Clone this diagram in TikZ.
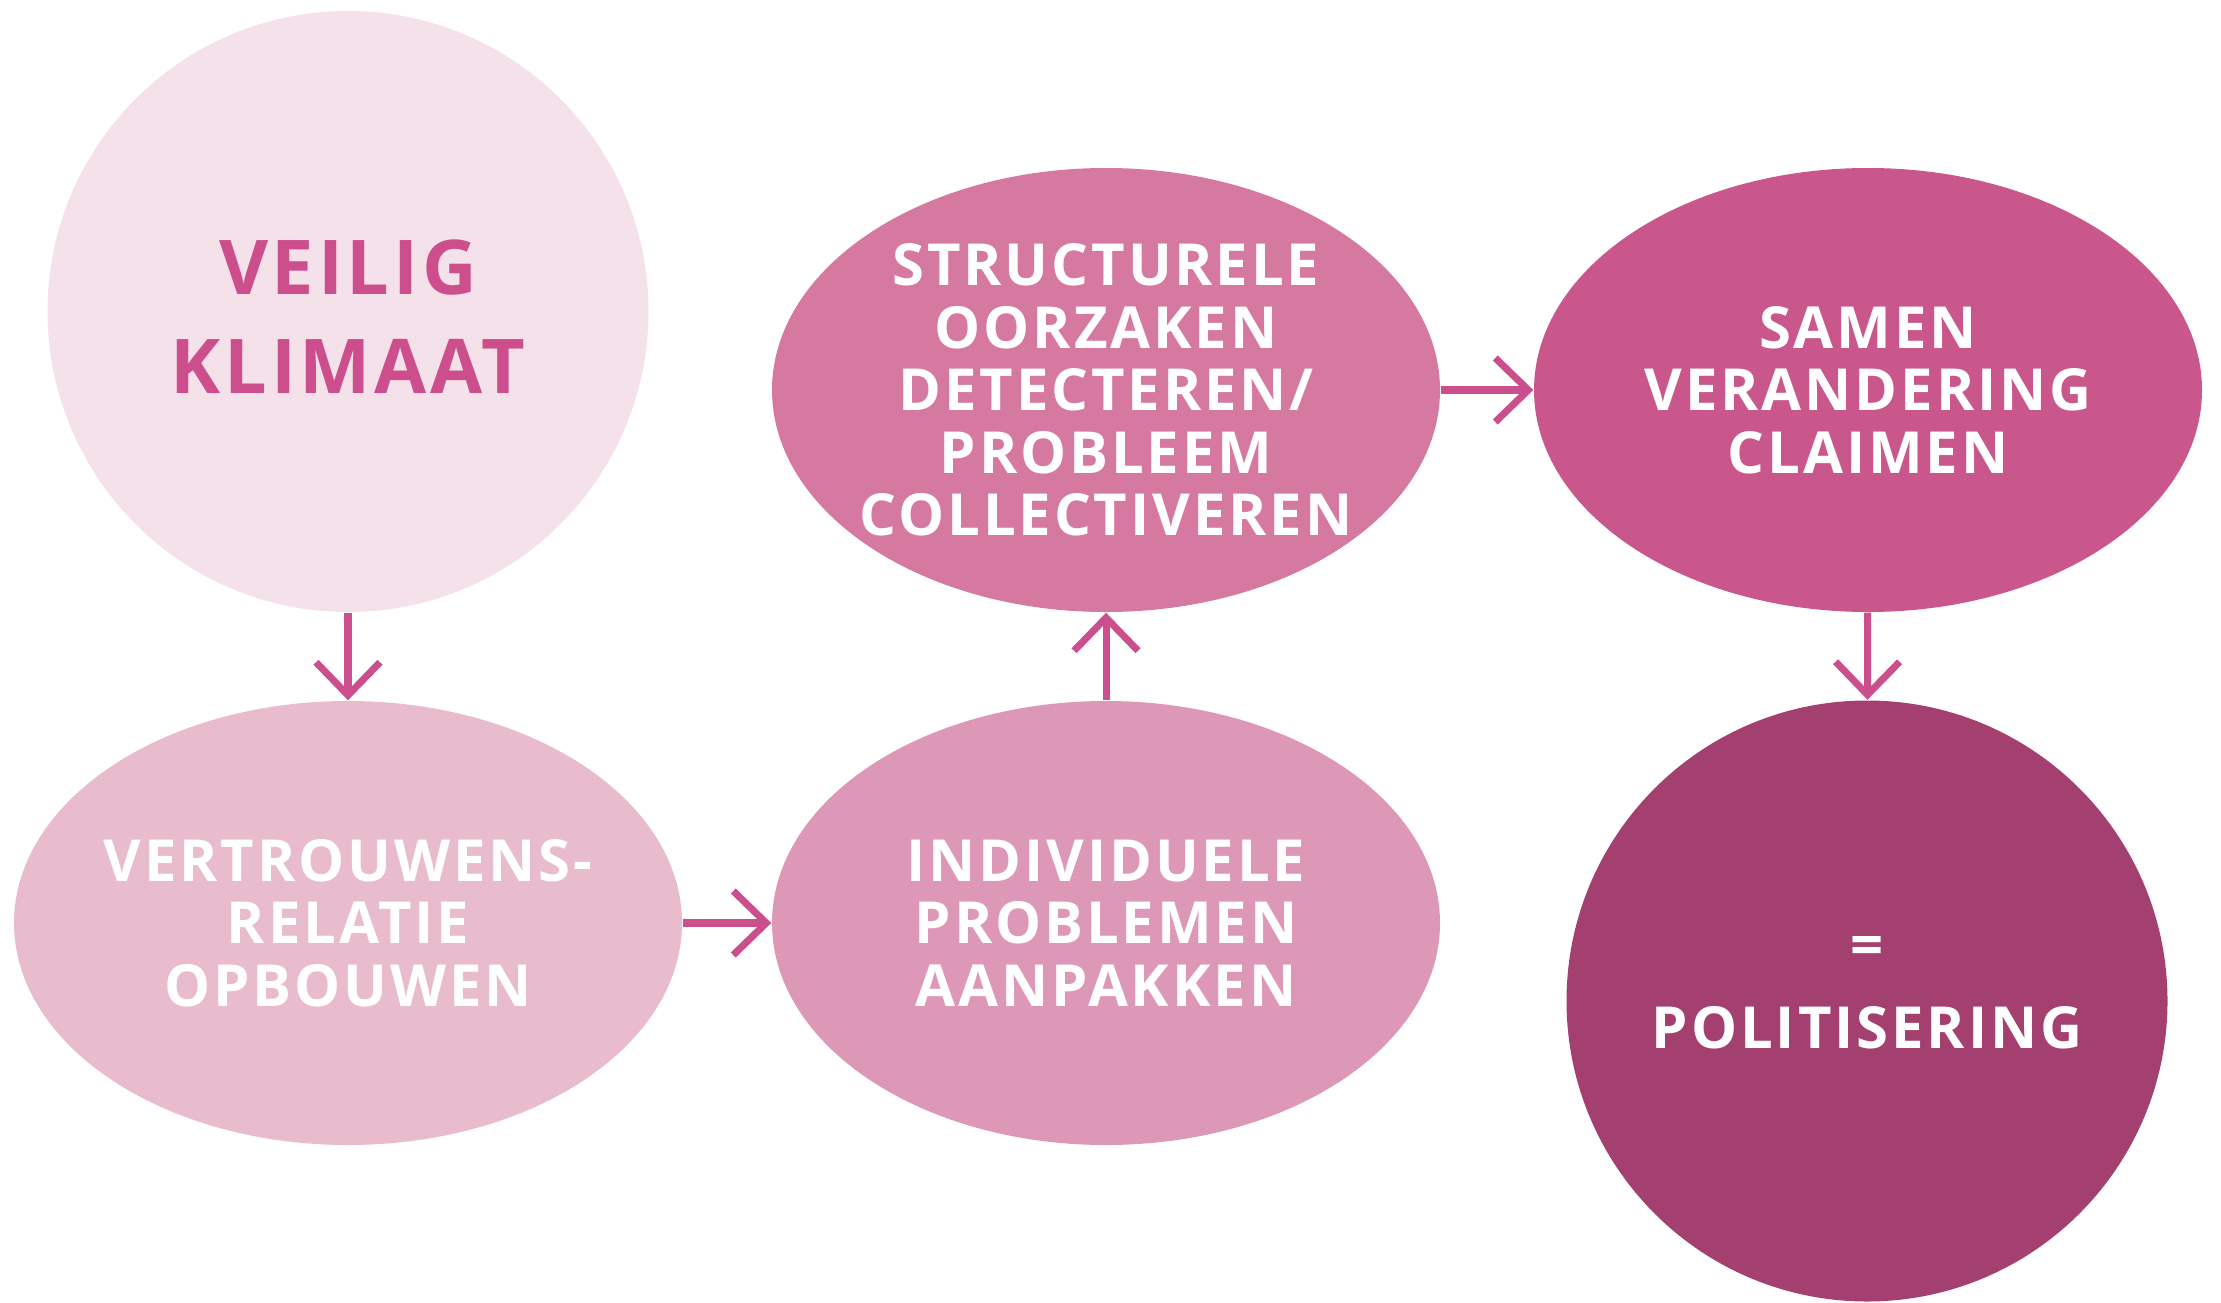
\documentclass[tikz,border=0pt]{standalone}
\usepackage{fontspec}
\newfontfamily\labelfont{Open Sans}[LetterSpace=5]
\usetikzlibrary{arrows.meta, shapes.geometric}

\definecolor{klimaat}{HTML}{F4E1EA}
\definecolor{klimaattekst}{HTML}{CC4E8C}
\definecolor{vertrouwen}{HTML}{E8BBCD}
\definecolor{individueel}{HTML}{DE98B7}
\definecolor{structureel}{HTML}{D579A0}
\definecolor{samen}{HTML}{C9578C}
\definecolor{politiek}{HTML}{A4406F}
\definecolor{pijlkleur}{HTML}{CB4F8C}

\begin{document}
\begin{tikzpicture}[>={Straight Barb[length=3.3mm, width=6.4mm, sharp]},
        bol/.style={circle, minimum size=6.01cm, inner sep=0pt},
        blob/.style={ellipse, minimum width=6.68cm, minimum height=4.44cm, inner sep=0pt},
        txt/.style={font=\labelfont\bfseries\fontsize{16.5}{17.8}\selectfont, text=white, align=center, inner sep=0pt},
        groot/.style={font=\labelfont\bfseries\fontsize{21.5}{28}\selectfont, text=klimaattekst, align=center, inner sep=0pt},
        pijl/.style={->, draw=pijlkleur, line width=2pt}]
        \useasboundingbox (0,0) rectangle (22.21,-13.02);

        % cirkels en ellipsen
        \node[bol, fill=klimaat] (veilig) at (3.48,-3.115) {};
        \node[blob, fill=vertrouwen] (relatie) at (3.48,-9.23) {};
        \node[blob, fill=individueel] (aanpak) at (11.06,-9.23) {};
        \node[blob, fill=structureel] (oorzaken) at (11.06,-3.90) {};
        \node[blob, fill=samen] (claimen) at (18.68,-3.90) {};
        \node[bol, fill=politiek] (politisering) at (18.67,-10.01) {};

        % teksten
        \node[groot] (veilig-t) at ([yshift=-0.5mm]veilig.center) {VEILIG\\KLIMAAT};
        \node[txt] (relatie-t) at (relatie) {VERTROUWENS-\\RELATIE\\OPBOUWEN};
        \node[txt] (aanpak-t) at (aanpak) {INDIVIDUELE\\PROBLEMEN\\AANPAKKEN};
        \node[txt] (oorzaken-t) at (oorzaken) {STRUCTURELE\\OORZAKEN\\DETECTEREN/\\PROBLEEM\\COLLECTIVEREN};
        \node[txt] (claimen-t) at (claimen) {SAMEN\\VERANDERING\\CLAIMEN};
        \node[txt] (politisering-t) at ([yshift=0.8mm]politisering.center) {=\\[2mm]POLITISERING};

        \draw[pijl] (veilig) -- (relatie);
        \draw[pijl] (relatie) -- (aanpak);
        \draw[pijl] (aanpak) -- (oorzaken);
        \draw[pijl] (oorzaken) -- (claimen);
        \draw[pijl] (claimen) -- (politisering);
\end{tikzpicture}
\end{document}
